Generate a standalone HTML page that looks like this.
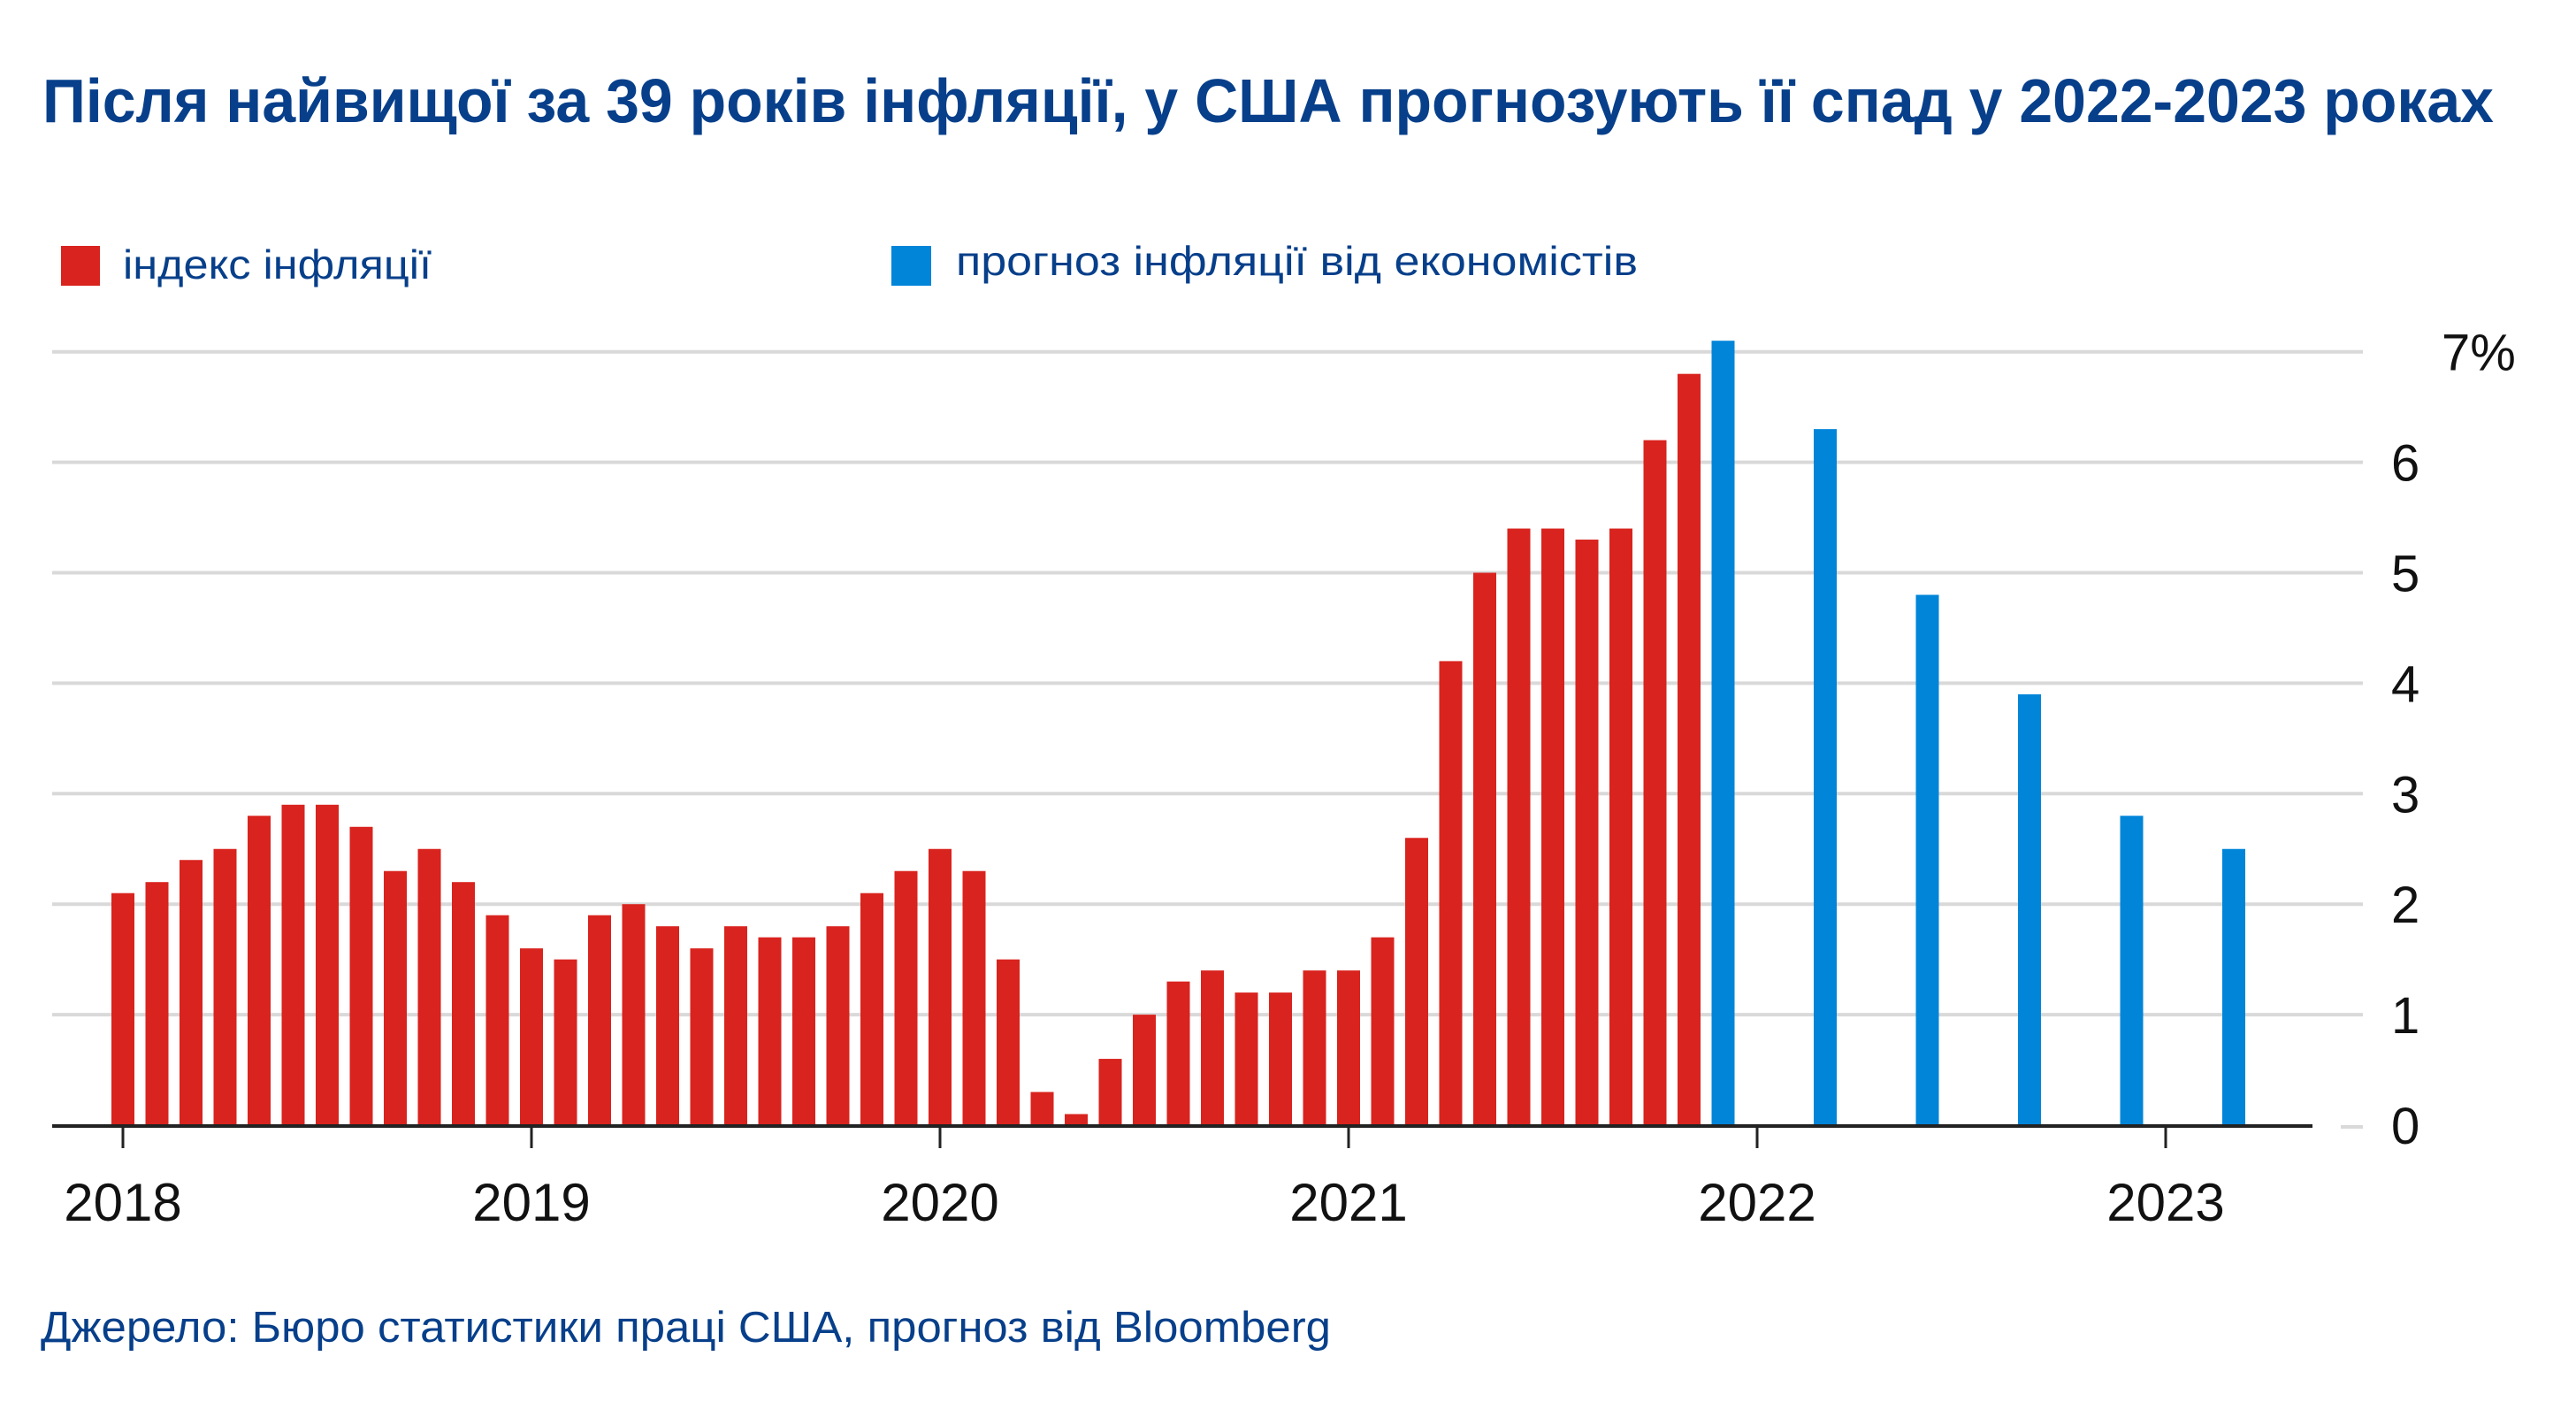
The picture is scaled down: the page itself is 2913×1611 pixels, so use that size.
<!DOCTYPE html>
<html><head><meta charset="utf-8"><style>
html,body{margin:0;padding:0;background:#fff;}
svg{display:block;}
text{font-family:"Liberation Sans",sans-serif;}
</style></head><body>
<svg id="chart" width="2913" height="1611" viewBox="0 0 2913 1611" xmlns="http://www.w3.org/2000/svg">
<text x="48" y="138" font-size="70" font-weight="bold" fill="#073f8a" textLength="2772" lengthAdjust="spacingAndGlyphs">Після найвищої за 39 років інфляції, у США прогнозують її спад у 2022-2023 роках</text>
<rect x="69" y="278" width="44" height="45" fill="#d9231e"/>
<text x="139" y="315" font-size="46" fill="#073f8a" textLength="349" lengthAdjust="spacingAndGlyphs">індекс інфляції</text>
<rect x="1008" y="278" width="45" height="45" fill="#0085d9"/>
<text x="1081" y="311" font-size="46" fill="#073f8a" textLength="771" lengthAdjust="spacingAndGlyphs">прогноз інфляції від економістів</text>
<g id="grid"></g>
<g id="bars"></g>
<g id="axis"></g>
<text x="46" y="1517" font-size="49" fill="#073f8a" textLength="1459" lengthAdjust="spacingAndGlyphs">Джерело: Бюро статистики праці США, прогноз від Bloomberg</text>
</svg>
<script>
const actualValues = [2.1,2.2,2.4,2.5,2.8,2.9,2.9,2.7,2.3,2.5,2.2,1.9,
 1.6,1.5,1.9,2.0,1.8,1.6,1.8,1.7,1.7,1.8,2.1,2.3,
 2.5,2.3,1.5,0.3,0.1,0.6,1.0,1.3,1.4,1.2,1.2,1.4,
 1.4,1.7,2.6,4.2,5.0,5.4,5.4,5.3,5.4,6.2,6.8];
const forecastMonths = [47,50,53,56,59,62];
const forecastValues = [7.1,6.3,4.8,3.9,2.8,2.5];
const yTicks = [0,1,2,3,4,5,6,7];
const yTickLabels = ["0","1","2","3","4","5","6","7%"];
const yearLabels = ["2018","2019","2020","2021","2022","2023"];

const NS = "http://www.w3.org/2000/svg";
const X0 = 139, MONTH = 38.5, Y0 = 1272, UNIT = 124.9, BW = 26;
function xScale(m){ return X0 + m*MONTH; }
function yScale(v){ return Y0 - v*UNIT; }
function mk(tag, attrs, parent){
  const el = document.createElementNS(NS, tag);
  for (const k in attrs) el.setAttribute(k, attrs[k]);
  parent.appendChild(el);
  return el;
}
const grid = document.getElementById('grid');
const bars = document.getElementById('bars');
const axis = document.getElementById('axis');

yTicks.forEach((t,i)=>{
  const y = yScale(t);
  if (t > 0) {
    const l = mk('line',{x1:59,x2:2672,y1:y,y2:y,stroke:'#d9d9d9','stroke-width':4},grid);
    
    
  } else {
    const d = mk('line',{x1:2647,x2:2672,y1:y+2,y2:y+2,stroke:'#d9d9d9','stroke-width':4},grid);
    
    
  }
  const lab = mk('text',{x: t===7 ? 2761 : 2704, y: y+21, 'font-size':58, fill:'#111'},axis);
  lab.textContent = yTickLabels[i];
  
  
});

actualValues.forEach((v,m)=>{
  const r = mk('rect',{x:xScale(m)-BW/2,y:yScale(v),width:BW,height:v*UNIT,fill:'#d9231e'},bars);
  
  
});
forecastValues.forEach((v,i)=>{
  const m = forecastMonths[i];
  const r = mk('rect',{x:xScale(m)-BW/2,y:yScale(v),width:BW,height:v*UNIT,fill:'#0085d9'},bars);
  
  
});

const base = mk('line',{x1:59,x2:2615,y1:Y0+1,y2:Y0+1,stroke:'#222','stroke-width':4},axis);


yearLabels.forEach((yl,i)=>{
  const x = xScale(i*12);
  const t = mk('line',{x1:x,x2:x,y1:Y0,y2:Y0+26,stroke:'#222','stroke-width':3},axis);
  
  
  const lab = mk('text',{x:x,y:Y0+108,'font-size':60,fill:'#111','text-anchor':'middle'},axis);
  lab.textContent = yl;
  
  
});
</script>
</body></html>
